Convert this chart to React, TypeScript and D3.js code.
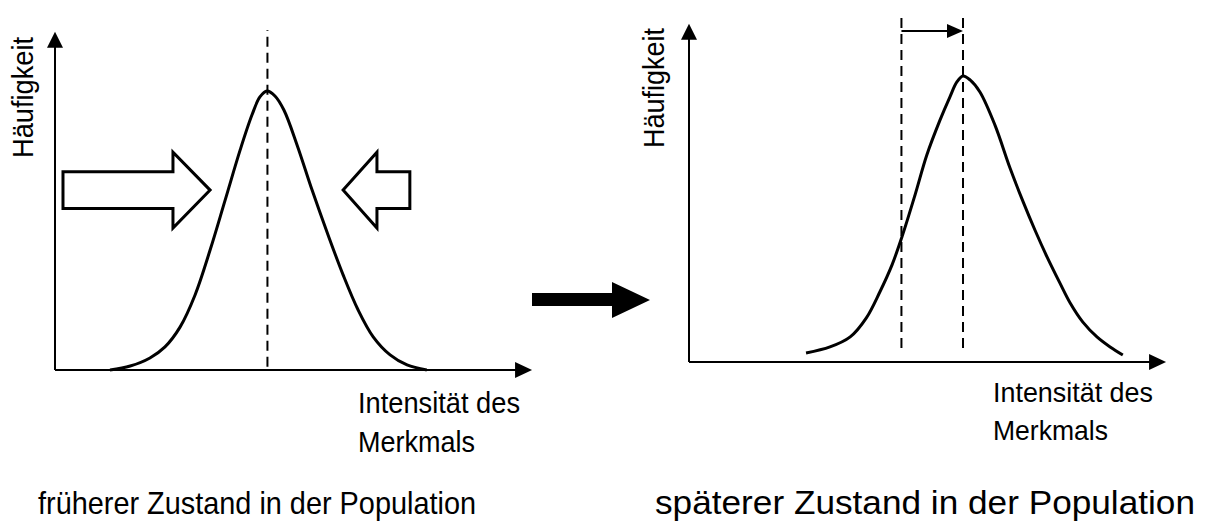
import React from 'react';
import * as d3 from 'd3';

// frequency curve before selection (intensity in arbitrary units 0..10)
const intensityBefore = [1.17, 1.6, 2.02, 2.34, 2.66, 2.98, 3.3, 3.62, 3.94, 4.19, 4.36, 4.51, 4.68, 4.87, 5.15, 5.47, 5.81, 6.13, 6.45, 6.77, 7.13, 7.49, 7.91];
const frequencyBefore = [0, 0.12, 0.36, 0.69, 1.28, 2.24, 3.58, 5.07, 6.57, 7.61, 8.15, 8.33, 8.18, 7.76, 6.72, 5.37, 4.03, 2.84, 1.79, 0.99, 0.45, 0.15, 0];

// frequency curve after selection
const intensityAfter = [2.49, 3.0, 3.43, 3.77, 4.06, 4.32, 4.53, 4.81, 5.06, 5.34, 5.55, 5.7, 5.83, 5.98, 6.19, 6.51, 6.83, 7.11, 7.36, 7.62, 7.89, 8.11, 8.38, 8.68, 8.96, 9.23];
const frequencyAfter = [0.27, 0.45, 0.75, 1.31, 2.09, 2.9, 3.73, 4.99, 6.18, 7.22, 7.91, 8.36, 8.54, 8.42, 8.06, 7.07, 5.79, 4.78, 3.94, 3.13, 2.36, 1.76, 1.19, 0.75, 0.45, 0.21];

const meanBefore = 4.52;
const meanAfter = 5.83;

// selection pressure arrows (left panel)
const pressureFrom = [0.17, 7.55];
const pressureNeck = [2.51, 6.85];
const pressureTip = [3.3, 6.13];
const pressureLevel = 5.37;

const yLabel = 'Häufigkeit';
const xLabel = ['Intensität des', 'Merkmals'];
const captions = ['früherer Zustand in der Population', 'späterer Zustand in der Population'];

const FONT = '"Liberation Sans", Arial, sans-serif';
const W = 1214;
const H = 521;

function makeScales(ox: number, oy: number) {
  const x = d3.scaleLinear().domain([0, 10]).range([ox, ox + 470]);
  const y = d3.scaleLinear().domain([0, 10]).range([oy, oy - 335]);
  return { x, y };
}

function Axes({ x, y }: { x: any; y: any }) {
  const x0 = x(0), y0 = y(0);
  const xt = x(10.15), yt = y(10.1);
  return (
    <g>
      <line x1={x0} y1={y0} x2={x0} y2={yt + 12} stroke="#000" strokeWidth={2} />
      <path d={`M${x0},${yt} L${x0 - 8},${yt + 16} L${x0 + 8},${yt + 16} Z`} fill="#000" />
      <line x1={x0} y1={y0} x2={xt - 12} y2={y0} stroke="#000" strokeWidth={2} />
      <path d={`M${xt},${y0} L${xt - 17},${y0 - 8} L${xt - 17},${y0 + 8} Z`} fill="#000" />
    </g>
  );
}

function curvePath(x: any, y: any, xs: number[], ys: number[]) {
  const line = d3.line<number>()
    .x((d, i) => x(xs[i]))
    .y(d => y(d))
    .curve(d3.curveCatmullRom.alpha(0.5));
  return line(ys) || '';
}

function blockArrow(x: any, y: any, i: number) {
  const f = x(pressureFrom[i]), n = x(pressureNeck[i]), t = x(pressureTip[i]);
  const c = y(pressureLevel);
  const b1 = y(pressureLevel + 0.55), b2 = y(pressureLevel - 0.55);
  const h1 = y(pressureLevel + 1.13), h2 = y(pressureLevel - 1.13);
  return `M${f},${b1} L${n},${b1} L${n},${h1} L${t},${c} L${n},${h2} L${n},${b2} L${f},${b2} Z`;
}

export default function App() {
  const left = makeScales(55, 370);
  const right = makeScales(689, 362);

  const txt = { fontFamily: FONT, fill: '#000' } as const;

  return (
    <svg width={W} height={H} style={{ position: 'absolute', left: 0, top: 0, background: '#fff' }}>
      <rect width={W} height={H} fill="#fff" />

      {/* left panel */}
      <Axes x={left.x} y={left.y} />
      <line x1={left.x(meanBefore)} x2={left.x(meanBefore)} y1={left.y(0.1)} y2={left.y(10.15)}
        stroke="#000" strokeWidth={2} strokeDasharray="10,6" />
      <path d={curvePath(left.x, left.y, intensityBefore, frequencyBefore)} fill="none" stroke="#000" strokeWidth={3} />
      {pressureFrom.map((_, i) => (
        <path key={i} d={blockArrow(left.x, left.y, i)} fill="#fff" stroke="#000" strokeWidth={3} strokeLinejoin="miter" />
      ))}
      <text {...txt} fontSize={29} textLength={121} lengthAdjust="spacingAndGlyphs"
        transform="translate(33,158) rotate(-90)">{yLabel}</text>
      <text {...txt} fontSize={30} x={358} y={413} textLength={162} lengthAdjust="spacingAndGlyphs">{xLabel[0]}</text>
      <text {...txt} fontSize={30} x={358} y={452} textLength={117} lengthAdjust="spacingAndGlyphs">{xLabel[1]}</text>

      {/* transition arrow */}
      <path d="M532,293 L612,293 L612,282 L650,300 L612,318 L612,306 L532,306 Z" fill="#000" />

      {/* right panel */}
      <Axes x={right.x} y={right.y} />
      {[meanBefore, meanAfter].map((m, i) => (
        <line key={i} x1={right.x(m)} x2={right.x(m)} y1={right.y(0.42)} y2={right.y(10.42)}
          stroke="#000" strokeWidth={2} strokeDasharray="10,6" />
      ))}
      <line x1={right.x(meanBefore)} x2={right.x(meanAfter) - 14} y1={right.y(9.88)} y2={right.y(9.88)}
        stroke="#000" strokeWidth={2} />
      <path d={`M${right.x(meanAfter)},${right.y(9.88)} L${right.x(meanAfter) - 16},${right.y(9.88) - 7} L${right.x(meanAfter) - 16},${right.y(9.88) + 7} Z`} fill="#000" />
      <path d={curvePath(right.x, right.y, intensityAfter, frequencyAfter)} fill="none" stroke="#000" strokeWidth={3} />
      <text {...txt} fontSize={29} textLength={120} lengthAdjust="spacingAndGlyphs"
        transform="translate(664,148) rotate(-90)">{yLabel}</text>
      <text {...txt} fontSize={28} x={993} y={402} textLength={160} lengthAdjust="spacingAndGlyphs">{xLabel[0]}</text>
      <text {...txt} fontSize={28} x={993} y={440} textLength={115} lengthAdjust="spacingAndGlyphs">{xLabel[1]}</text>

      {/* captions */}
      <text {...txt} fontSize={32} x={38} y={514} textLength={438} lengthAdjust="spacingAndGlyphs">{captions[0]}</text>
      <text {...txt} fontSize={33} x={655} y={514} textLength={540} lengthAdjust="spacingAndGlyphs">{captions[1]}</text>
    </svg>
  );
}
